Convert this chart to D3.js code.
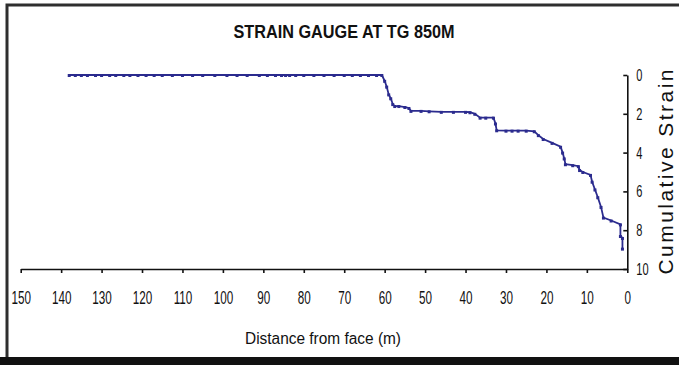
<!DOCTYPE html>
<html>
<head>
<meta charset="utf-8">
<script src="https://cdn.jsdelivr.net/npm/d3@7"></script>
<style>
  html, body { margin: 0; padding: 0; background: #fff; }
  svg { display: block; }
  text { font-family: "Liberation Sans", Arial, sans-serif; fill: #111; }
</style>
</head>
<body>
<svg id="chart" width="679" height="365"></svg>
<script>
// Distance from face (m) and cumulative strain readings for the gauge
const distance = [
  138, 136.5, 135, 133.5, 131.5, 130, 128, 126.5, 124.5, 123, 121, 119, 117, 115, 112.5,
  110, 107.5, 105, 102, 99, 96.5, 94, 91, 89, 87, 85.5, 84.5, 83.5, 82, 80, 77.5, 75, 72.5,
  70, 68, 66, 64, 62, 60.7,
  60.0, 59.5, 59.0, 58.5, 58.0, 57.5, 56.5, 55.0, 54.0, 53.5, 51.0, 49.0, 46.0, 43.0, 40.0,
  38.9, 37.7, 36.4, 35.0, 33.1, 32.6, 32.3, 30.0, 28.5, 27.0, 25.0, 23.0, 22.0, 20.8, 18.6,
  16.5, 16.0, 15.6, 15.3, 13.5, 12.1, 11.8, 11.0, 9.1, 8.7, 8.0, 7.3, 6.5, 5.9, 4.0, 1.7,
  1.7, 1.2, 1.2
];
const strain = [
  0, 0, 0, 0, 0, 0, 0, 0, 0, 0, 0, 0, 0, 0, 0,
  0, 0, 0, 0, 0, 0, 0, 0, 0, 0, 0, 0, 0, 0, 0, 0, 0, 0,
  0, 0, 0, 0, 0, 0,
  0.3, 0.6, 1.0, 1.2, 1.5, 1.6, 1.6, 1.65, 1.7, 1.85, 1.85, 1.87, 1.9, 1.9, 1.9,
  1.92, 2.0, 2.2, 2.2, 2.2, 2.5, 2.85, 2.87, 2.87, 2.87, 2.87, 2.9, 3.1, 3.3, 3.5,
  3.7, 4.0, 4.3, 4.6, 4.65, 4.7, 4.9, 5.0, 5.15, 5.5, 5.9, 6.3, 6.8, 7.35, 7.5, 7.7,
  8.3, 8.4, 8.95
];
const xTicks = [150, 140, 130, 120, 110, 100, 90, 80, 70, 60, 50, 40, 30, 20, 10, 0];
const yTicks = [0, 2, 4, 6, 8, 10];

const title = "STRAIN GAUGE AT TG 850M";
const xTitle = "Distance from face (m)";
const yTitle = "Cumulative Strain";

const svg = d3.select("#chart");
const lineColor = "#2b2b8e";
const squeeze = 0.65; // horizontal compression for the narrow tick lettering

// Outer frame and heavy bottom band
svg.append("rect")
  .attr("x", 7).attr("y", 5).attr("width", 700).attr("height", 354)
  .attr("fill", "none").attr("stroke", "#2e2e2e").attr("stroke-width", 3);
svg.append("rect")
  .attr("x", 0).attr("y", 357).attr("width", 679).attr("height", 8)
  .attr("fill", "#111");

const x = d3.scaleLinear().domain([150, 0]).range([20.7, 627.3]);
const y = d3.scaleLinear().domain([0, 10]).range([75, 269]);

// Bottom axis (distance, decreasing to the right)
const gx = svg.append("g")
  .attr("transform", `translate(0,${y(10)})`)
  .call(d3.axisBottom(x).tickValues(xTicks).tickSizeInner(4).tickSizeOuter(0).tickPadding(18));
gx.select(".domain").attr("stroke", "#111").attr("stroke-width", 1.6);
gx.selectAll(".tick line").attr("stroke", "#111").attr("stroke-width", 1.6);
gx.selectAll(".tick text")
  .style("font-size", "18px").attr("fill", "#111")
  .attr("transform", `scale(${squeeze},1)`);

// Right axis (strain, increasing downward)
const gy = svg.append("g")
  .attr("transform", `translate(${x(0)},0)`)
  .call(d3.axisRight(y).tickValues(yTicks).tickSizeInner(-4).tickSizeOuter(0).tickPadding(9));
gy.select(".domain").attr("stroke", "#111").attr("stroke-width", 1.6);
gy.selectAll(".tick line").attr("stroke", "#111").attr("stroke-width", 1.6);
gy.selectAll(".tick text")
  .style("font-size", "17px").attr("fill", "#111")
  .attr("x", 9 / squeeze)
  .attr("transform", `scale(${squeeze},1)`);

// Strain trace
const pts = distance.map((d, i) => [d, strain[i]]);
svg.append("path")
  .datum(pts)
  .attr("fill", "none")
  .attr("stroke", lineColor)
  .attr("stroke-width", 1.8)
  .attr("d", d3.line().x(d => x(d[0])).y(d => y(d[1])));

svg.append("g").selectAll("rect")
  .data(pts)
  .join("rect")
  .attr("x", d => x(d[0]) - 1.5)
  .attr("y", d => y(d[1]) - 1)
  .attr("width", 3)
  .attr("height", 3)
  .attr("fill", lineColor);

// Titles
svg.append("text")
  .attr("x", 344).attr("y", 38)
  .attr("text-anchor", "middle")
  .attr("textLength", 221).attr("lengthAdjust", "spacingAndGlyphs")
  .style("font-size", "19px").style("font-weight", "bold")
  .text(title);

svg.append("text")
  .attr("x", 323).attr("y", 344)
  .attr("text-anchor", "middle")
  .attr("textLength", 156).attr("lengthAdjust", "spacingAndGlyphs")
  .style("font-size", "16px")
  .text(xTitle);

svg.append("text")
  .attr("transform", "translate(673,172) rotate(-90)")
  .attr("text-anchor", "middle")
  .attr("textLength", 205).attr("lengthAdjust", "spacing")
  .style("font-size", "21px")
  .text(yTitle);
</script>
</body>
</html>
